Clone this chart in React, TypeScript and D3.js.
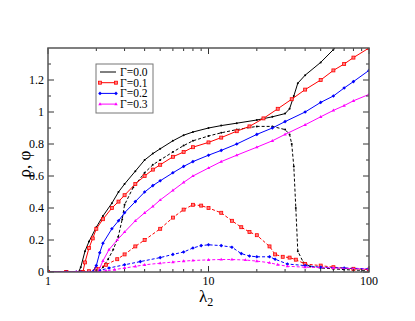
import React from "react";
import * as d3 from "d3";

// rho (solid) and phi (dashed) vs lambda_2, one pair per Gamma
const rho0: [number, number][] = [
  [1, 0], [1.3, 0], [1.55, 0], [1.6, 0.03], [1.7, 0.13], [1.8, 0.19], [2.0, 0.28], [2.2, 0.35],
  [2.5, 0.43], [2.75, 0.5], [3.0, 0.55], [3.5, 0.63], [4.0, 0.7], [4.5, 0.74], [5.0, 0.77], [6.0, 0.82],
  [7.0, 0.855], [8.0, 0.875], [10, 0.9], [12, 0.915], [15, 0.93], [20, 0.95], [25, 0.97], [30, 0.99],
  [32, 1.02], [34, 1.1], [36, 1.18], [40, 1.23], [50, 1.31], [60, 1.39], [70, 1.46],
];
const phi0: [number, number][] = [
  [1, 0], [1.5, 0], [2.0, 0], [2.1, 0.01], [2.2, 0.03], [2.37, 0.08], [2.55, 0.14], [2.74, 0.22],
  [2.9, 0.33], [3.0, 0.42], [3.4, 0.53], [4.0, 0.62], [4.5, 0.67], [5.0, 0.7], [6.0, 0.75], [7.0, 0.79],
  [8.0, 0.82], [10, 0.85], [12, 0.87], [15, 0.89], [20, 0.91], [25, 0.91], [30, 0.89], [32, 0.86],
  [33, 0.8], [34, 0.66], [35, 0.4], [36, 0.13], [39, 0.06], [43, 0.035], [50, 0.025], [60, 0.02],
  [70, 0.015], [80, 0.012], [100, 0.01],
];
const rho1: [number, number][] = [
  [1, 0], [1.3, 0], [1.65, 0], [1.7, 0.06], [1.8, 0.15], [1.9, 0.21], [2.0, 0.27], [2.2, 0.33],
  [2.5, 0.4], [2.75, 0.44], [3.0, 0.48], [3.5, 0.55], [4.0, 0.6], [4.5, 0.64], [5.0, 0.67], [6.0, 0.72],
  [7.0, 0.75], [8.0, 0.78], [10, 0.81], [12, 0.84], [15, 0.88], [18, 0.91], [22, 0.96], [27, 1.02],
  [33, 1.08], [40, 1.14], [50, 1.2], [60, 1.26], [70, 1.3], [80, 1.34], [100, 1.4],
];
const phi1: [number, number][] = [
  [1, 0], [1.3, 0], [1.6, 0], [1.8, 0.005], [2.0, 0.02], [2.3, 0.045], [2.7, 0.08], [3.0, 0.11],
  [3.5, 0.16], [4.0, 0.2], [5.0, 0.27], [6.0, 0.34], [7.0, 0.39], [8.0, 0.42], [9.0, 0.415], [10, 0.4],
  [12, 0.37], [14, 0.32], [16, 0.28], [18, 0.25], [20, 0.23], [24, 0.16], [26, 0.11], [29, 0.095],
  [32, 0.09], [35, 0.077], [40, 0.05], [50, 0.04], [60, 0.03], [80, 0.02], [100, 0.015],
];
const rho2: [number, number][] = [
  [1, 0], [1.3, 0], [1.6, 0], [1.9, 0], [2.0, 0.04], [2.1, 0.12], [2.2, 0.18], [2.5, 0.27],
  [2.75, 0.32], [3.0, 0.37], [3.5, 0.44], [4.0, 0.5], [4.5, 0.54], [5.0, 0.57], [6.0, 0.62], [7.0, 0.66],
  [8.0, 0.69], [10, 0.73], [12, 0.76], [15, 0.8], [20, 0.86], [25, 0.9], [30, 0.94], [40, 1.0],
  [50, 1.06], [60, 1.1], [70, 1.15], [80, 1.19], [100, 1.26],
];
const phi2: [number, number][] = [
  [1, 0], [1.5, 0], [1.9, 0], [2.1, 0.01], [2.4, 0.025], [3.0, 0.045], [3.76, 0.065], [5.0, 0.09],
  [6.0, 0.11], [7.0, 0.125], [8.0, 0.15], [9.0, 0.165], [10, 0.17], [12, 0.165], [14, 0.155],
  [16, 0.115], [18, 0.1], [20, 0.095], [24, 0.095], [26, 0.08], [31, 0.05], [40, 0.04], [50, 0.03],
  [70, 0.025], [100, 0.02],
];
const rho3: [number, number][] = [
  [1, 0], [1.5, 0], [1.8, 0], [2.05, 0], [2.2, 0.07], [2.4, 0.14], [2.7, 0.2], [3.0, 0.25],
  [3.5, 0.32], [4.0, 0.37], [4.5, 0.41], [5.0, 0.45], [6.0, 0.51], [7.0, 0.56], [8.0, 0.6], [10, 0.65],
  [12, 0.69], [15, 0.73], [20, 0.78], [25, 0.82], [30, 0.86], [40, 0.92], [50, 0.97], [60, 1.01],
  [70, 1.04], [80, 1.07], [100, 1.11],
];
const phi3: [number, number][] = [
  [1, 0], [1.5, 0], [2.0, 0], [2.3, 0.008], [2.6, 0.015], [3.0, 0.025], [3.5, 0.035], [4.0, 0.045],
  [5.0, 0.055], [6.0, 0.062], [7.0, 0.068], [8.0, 0.072], [10, 0.076], [12, 0.078], [14, 0.078],
  [17, 0.075], [20, 0.068], [24, 0.058], [27, 0.046], [31, 0.036], [40, 0.03], [60, 0.025], [100, 0.018],
];

const gammaLabels = ["Γ=0.0", "Γ=0.1", "Γ=0.2", "Γ=0.3"];
const colors = ["#000000", "#ff0000", "#0000ff", "#ff00ff"];
const rhoSeries = [rho0, rho1, rho2, rho3];
const phiSeries = [phi0, phi1, phi2, phi3];
const yTicks = [0, 0.2, 0.4, 0.6, 0.8, 1, 1.2];
const xTicks = [1, 10, 100];

const W = 415, H = 321;
const left = 48, top = 48, right = 369, bottom = 272;

function Marker({ kind, x, y, c }: { kind: number; x: number; y: number; c: string }) {
  if (kind === 1) return <rect x={x - 1.5} y={y - 1.5} width={3} height={3} fill="#ff8080" stroke={c} strokeWidth={0.8} />;
  if (kind === 2) return <path d={`M${x},${y - 1.8}L${x + 1.8},${y}L${x},${y + 1.8}L${x - 1.8},${y}Z`} fill={c} />;
  if (kind === 3) return <path d={`M${x},${y - 1.8}L${x + 1.7},${y + 1.1}L${x - 1.7},${y + 1.1}Z`} fill={c} />;
  return <circle cx={x} cy={y} r={1} fill={c} />;
}

export default function App() {
  const x = d3.scaleLog().domain([1, 100]).range([left, right]);
  const y = d3.scaleLinear().domain([0, 1.4]).range([bottom, top]);
  const line = d3.line<[number, number]>().x((d) => x(d[0])).y((d) => y(d[1]));

  const minorX: number[] = [];
  for (const dec of [1, 10]) for (let k = 2; k <= 9; k++) minorX.push(dec * k);
  const minorY = d3.range(0.1, 1.4, 0.2);

  const serif = "'Liberation Serif', 'Times New Roman', serif";
  const draw = (data: [number, number][], i: number, dashed: boolean) => (
    <g key={(dashed ? "p" : "r") + i}>
      <path d={line(data) || ""} fill="none" stroke={colors[i]} strokeWidth={1}
        strokeDasharray={dashed ? "3,2" : undefined} />
      {data.filter((d) => d[1] <= 1.4).map((d, j) => (
        <Marker key={j} kind={i} x={x(d[0])} y={y(d[1])} c={colors[i]} />
      ))}
    </g>
  );

  return (
    <svg width={W} height={H} style={{ position: "absolute", left: 0, top: 0, background: "#fff" }}>
      <defs>
        <clipPath id="plot">
          <rect x={left} y={top} width={right - left} height={bottom - top} />
        </clipPath>
      </defs>
      <g clipPath="url(#plot)">
        {phiSeries.map((s, i) => draw(s, i, true))}
        {rhoSeries.map((s, i) => draw(s, i, false))}
      </g>
      {/* ticks */}
      <g stroke="#333" strokeWidth={1}>
        {xTicks.map((t) => (
          <g key={"xt" + t}>
            <line x1={x(t)} x2={x(t)} y1={bottom} y2={bottom - 6} />
            <line x1={x(t)} x2={x(t)} y1={top} y2={top + 6} />
          </g>
        ))}
        {minorX.map((t) => (
          <g key={"xm" + t}>
            <line x1={x(t)} x2={x(t)} y1={bottom} y2={bottom - 3} />
            <line x1={x(t)} x2={x(t)} y1={top} y2={top + 3} />
          </g>
        ))}
        {yTicks.map((t) => (
          <g key={"yt" + t}>
            <line x1={left} x2={left + 6} y1={y(t)} y2={y(t)} />
            <line x1={right} x2={right - 6} y1={y(t)} y2={y(t)} />
          </g>
        ))}
        {minorY.map((t) => (
          <g key={"ym" + t}>
            <line x1={left} x2={left + 3} y1={y(t)} y2={y(t)} />
            <line x1={right} x2={right - 3} y1={y(t)} y2={y(t)} />
          </g>
        ))}
      </g>
      <rect x={left} y={top} width={right - left} height={bottom - top} fill="none" stroke="#555" strokeWidth={1.5} />
      <g fontFamily={serif} fontSize={12} fill="#000">
        {xTicks.map((t) => (
          <text key={"xl" + t} x={x(t)} y={bottom + 13} textAnchor="middle">{t}</text>
        ))}
        {yTicks.map((t) => (
          <text key={"yl" + t} x={left - 4} y={y(t) + 4} textAnchor="end">{d3.format("~g")(t)}</text>
        ))}
      </g>
      <text x={206} y={302} fontFamily={serif} fontSize={17} textAnchor="middle">
        λ<tspan fontSize={12} dy={4}>2</tspan>
      </text>
      <text transform={`translate(30,${(top + bottom) / 2 + 4}) rotate(-90)`} fontFamily={serif} fontSize={17} textAnchor="middle">
        ρ, φ
      </text>
      {/* legend */}
      <g>
        <rect x={96} y={64} width={57} height={49} fill="#fff" stroke="#777" strokeWidth={1} />
        {gammaLabels.map((lab, i) => {
          const ly = 72 + i * 10.7;
          return (
            <g key={lab}>
              <line x1={100} x2={116} y1={ly} y2={ly} stroke={colors[i]} strokeWidth={1} />
              {i > 0 && <Marker kind={i} x={100} y={ly} c={colors[i]} />}
              {i > 0 && <Marker kind={i} x={116} y={ly} c={colors[i]} />}
              <text x={120} y={ly + 4} fontFamily={serif} fontSize={11.5}>{lab}</text>
            </g>
          );
        })}
      </g>
    </svg>
  );
}
